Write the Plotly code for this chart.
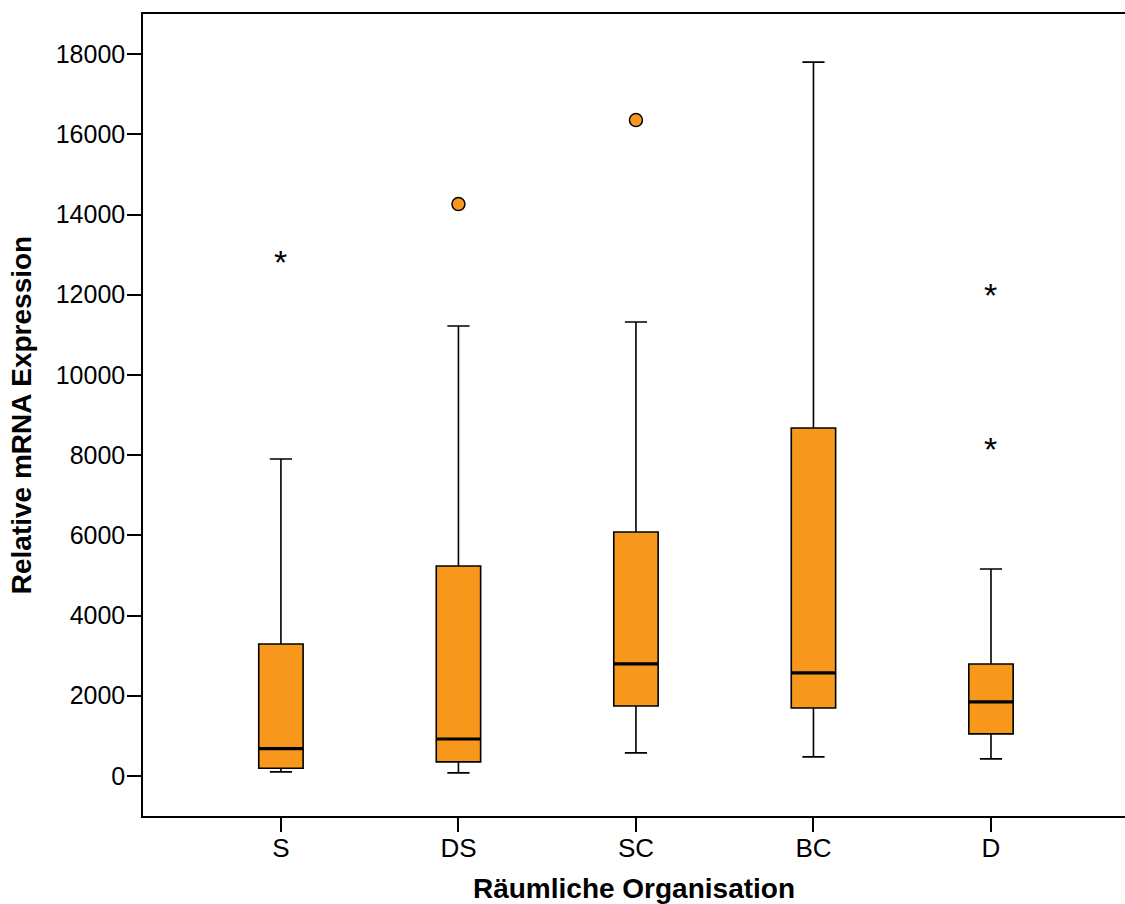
import plotly.graph_objects as go

categories = ["S", "DS", "SC", "BC", "D"]
lower_whisker = [100, 75, 573, 474, 424]
q1 = [190, 350, 1745, 1695, 1047]
median = [680, 920, 2792, 2568, 1845]
q3 = [3291, 5235, 6083, 8676, 2792]
upper_whisker = [7903, 11219, 11319, 17800, 5161]

outlier_cats = ["DS", "SC"]
outlier_vals = [14260, 16355]
extreme_cats = ["S", "D", "D"]
extreme_vals = [12890, 12067, 8227]

orange = "#F7981D"
font_family = "Arial, Liberation Sans, sans-serif"

fig = go.Figure()
fig.add_trace(go.Box(
    x=categories, q1=q1, median=median, q3=q3,
    lowerfence=lower_whisker, upperfence=upper_whisker,
    fillcolor=orange, line=dict(color="black", width=1.6),
    width=0.25, whiskerwidth=0.5, boxpoints=False, showlegend=False,
    hoverinfo="skip",
))
# thick median bars
fig.add_trace(go.Box(
    x=categories, q1=median, median=median, q3=median,
    lowerfence=median, upperfence=median,
    fillcolor="rgba(0,0,0,0)", line=dict(color="black", width=3.2),
    width=0.25, whiskerwidth=0.0001, boxpoints=False, showlegend=False,
    hoverinfo="skip",
))
fig.add_trace(go.Scatter(
    x=outlier_cats, y=outlier_vals, mode="markers",
    marker=dict(size=13, color=orange, line=dict(color="black", width=1.5)),
    showlegend=False, hoverinfo="skip",
))

for c, v in zip(extreme_cats, extreme_vals):
    fig.add_annotation(
        x=c, y=v, xref="x", yref="y", text="*", showarrow=False,
        yshift=-3, font=dict(family=font_family, size=34, color="black"),
    )

fig.update_layout(
    width=1125, height=904,
    margin=dict(l=143, r=0, t=14, b=88),
    plot_bgcolor="white", paper_bgcolor="white",
    boxmode="overlay",
    font=dict(family=font_family, color="black", size=25),
    xaxis=dict(
        type="category", categoryorder="array", categoryarray=categories,
        range=[-0.777, 4.755], showline=True, linecolor="black", linewidth=1.5,
        mirror=True, ticks="outside", ticklen=14, tickwidth=1.5, tickcolor="black",
        showgrid=False, zeroline=False, ticklabelstandoff=-6,
        title=dict(text="<b>Räumliche Organisation</b>", font=dict(size=28), standoff=19),
        tickfont=dict(size=26),
    ),
    yaxis=dict(
        range=[-1000, 19000], showline=True, linecolor="black", linewidth=1.5,
        ticks="outside", ticklen=14, tickwidth=1.5, tickcolor="black",
        tickvals=list(range(0, 18001, 2000)), tickformat="d",
        showgrid=False, zeroline=False, ticklabelstandoff=-3,
        title=dict(text="<b>Relative mRNA Expression</b>", font=dict(size=28), standoff=16),
        tickfont=dict(size=25),
    ),
)

fig.write_html("out.html")
